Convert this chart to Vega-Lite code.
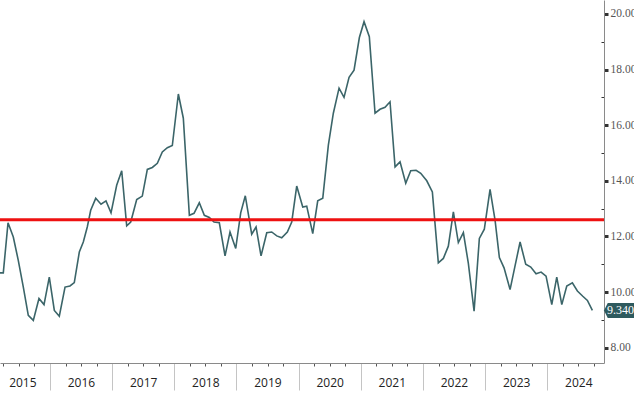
{
  "$schema": "https://vega.github.io/schema/vega-lite/v6.json",
  "width": 604,
  "height": 363,
  "autosize": {"type": "none"},
  "padding": {"left": 0, "top": 0, "right": 30, "bottom": 35},
  "background": "white",
  "config": {"view": {"stroke": null}},
  "datasets": {
    "series": [
      {"t": 2015.196, "v": 10.69}, {"t": 2015.249, "v": 10.69}, {"t": 2015.325, "v": 12.49}, {"t": 2015.410, "v": 11.98},
      {"t": 2015.490, "v": 11.14}, {"t": 2015.571, "v": 10.18}, {"t": 2015.651, "v": 9.16}, {"t": 2015.732, "v": 8.98},
      {"t": 2015.823, "v": 9.77}, {"t": 2015.904, "v": 9.55}, {"t": 2015.989, "v": 10.54}, {"t": 2016.070, "v": 9.34},
      {"t": 2016.150, "v": 9.13}, {"t": 2016.242, "v": 10.18}, {"t": 2016.322, "v": 10.22}, {"t": 2016.391, "v": 10.34},
      {"t": 2016.472, "v": 11.44}, {"t": 2016.536, "v": 11.80}, {"t": 2016.600, "v": 12.34}, {"t": 2016.655, "v": 12.94},
      {"t": 2016.736, "v": 13.37}, {"t": 2016.821, "v": 13.16}, {"t": 2016.901, "v": 13.28}, {"t": 2016.982, "v": 12.85},
      {"t": 2017.073, "v": 13.84}, {"t": 2017.154, "v": 14.36}, {"t": 2017.234, "v": 12.38}, {"t": 2017.299, "v": 12.52},
      {"t": 2017.395, "v": 13.33}, {"t": 2017.485, "v": 13.45}, {"t": 2017.566, "v": 14.41}, {"t": 2017.646, "v": 14.48},
      {"t": 2017.727, "v": 14.63}, {"t": 2017.807, "v": 15.04}, {"t": 2017.888, "v": 15.19}, {"t": 2017.968, "v": 15.27},
      {"t": 2018.065, "v": 17.12}, {"t": 2018.145, "v": 16.25}, {"t": 2018.242, "v": 12.76}, {"t": 2018.317, "v": 12.83},
      {"t": 2018.402, "v": 13.21}, {"t": 2018.483, "v": 12.76}, {"t": 2018.563, "v": 12.68}, {"t": 2018.639, "v": 12.52},
      {"t": 2018.724, "v": 12.49}, {"t": 2018.816, "v": 11.30}, {"t": 2018.896, "v": 12.16}, {"t": 2018.988, "v": 11.57},
      {"t": 2019.068, "v": 12.85}, {"t": 2019.142, "v": 13.46}, {"t": 2019.245, "v": 12.08}, {"t": 2019.315, "v": 12.34},
      {"t": 2019.395, "v": 11.30}, {"t": 2019.487, "v": 12.13}, {"t": 2019.567, "v": 12.16}, {"t": 2019.648, "v": 12.02},
      {"t": 2019.728, "v": 11.95}, {"t": 2019.818, "v": 12.16}, {"t": 2019.889, "v": 12.52}, {"t": 2019.969, "v": 13.81},
      {"t": 2020.066, "v": 13.06}, {"t": 2020.130, "v": 13.09}, {"t": 2020.227, "v": 12.10}, {"t": 2020.307, "v": 13.28},
      {"t": 2020.388, "v": 13.37}, {"t": 2020.478, "v": 15.28}, {"t": 2020.558, "v": 16.43}, {"t": 2020.650, "v": 17.33},
      {"t": 2020.730, "v": 17.00}, {"t": 2020.811, "v": 17.72}, {"t": 2020.891, "v": 17.98}, {"t": 2020.977, "v": 19.15},
      {"t": 2021.052, "v": 19.72}, {"t": 2021.137, "v": 19.18}, {"t": 2021.229, "v": 16.43}, {"t": 2021.309, "v": 16.57},
      {"t": 2021.390, "v": 16.64}, {"t": 2021.470, "v": 16.84}, {"t": 2021.551, "v": 14.50}, {"t": 2021.631, "v": 14.68},
      {"t": 2021.723, "v": 13.91}, {"t": 2021.803, "v": 14.36}, {"t": 2021.889, "v": 14.38}, {"t": 2021.964, "v": 14.27},
      {"t": 2022.061, "v": 14.00}, {"t": 2022.151, "v": 13.60}, {"t": 2022.247, "v": 11.05}, {"t": 2022.328, "v": 11.21},
      {"t": 2022.408, "v": 11.65}, {"t": 2022.489, "v": 12.88}, {"t": 2022.569, "v": 11.78}, {"t": 2022.650, "v": 12.14},
      {"t": 2022.730, "v": 11.03}, {"t": 2022.822, "v": 9.31}, {"t": 2022.907, "v": 11.93}, {"t": 2022.987, "v": 12.26},
      {"t": 2023.079, "v": 13.69}, {"t": 2023.160, "v": 12.58}, {"t": 2023.229, "v": 11.24}, {"t": 2023.304, "v": 10.87},
      {"t": 2023.401, "v": 10.09}, {"t": 2023.481, "v": 10.94}, {"t": 2023.562, "v": 11.80}, {"t": 2023.653, "v": 11.00},
      {"t": 2023.734, "v": 10.90}, {"t": 2023.819, "v": 10.66}, {"t": 2023.900, "v": 10.72}, {"t": 2023.980, "v": 10.57},
      {"t": 2024.072, "v": 9.55}, {"t": 2024.152, "v": 10.54}, {"t": 2024.233, "v": 9.55}, {"t": 2024.313, "v": 10.22},
      {"t": 2024.403, "v": 10.33}, {"t": 2024.484, "v": 10.04}, {"t": 2024.571, "v": 9.85}, {"t": 2024.645, "v": 9.70},
      {"t": 2024.725, "v": 9.34}
    ],
    "last": [{"t": 2024.912, "v": 9.34}],
    "threshold": [{"v": 12.6}]
  },
  "encoding": {
    "x": {
      "field": "t", "type": "quantitative",
      "scale": {"domain": [2015.196, 2024.912], "nice": false, "zero": false},
      "axis": {
        "title": null,
        "orient": "bottom",
        "grid": false,
        "domainColor": "#8a8a8a",
        "domainWidth": 1,
        "values": [2015.25, 2015.5, 2015.75, 2016, 2016.25, 2016.5, 2016.75, 2017, 2017.25, 2017.5, 2017.75, 2018, 2018.25, 2018.5, 2018.75, 2019, 2019.25, 2019.5, 2019.75, 2020, 2020.25, 2020.5, 2020.75, 2021, 2021.25, 2021.5, 2021.75, 2022, 2022.25, 2022.5, 2022.75, 2023, 2023.25, 2023.5, 2023.75, 2024, 2024.25, 2024.5, 2024.75],
        "tickSize": {"condition": {"test": "floor(datum.value) == datum.value", "value": 27}, "value": 3},
        "tickColor": {"condition": {"test": "floor(datum.value) == datum.value", "value": "#c4c4c4"}, "value": "#555555"},
        "tickWidth": 1,
        "labelExpr": "floor(datum.value) == datum.value ? format(datum.value, 'd') : (datum.value == 2015.25 ? '2015' : '')",
        "labelOffset": {"condition": {"test": "datum.value == 2015.25", "value": 19}, "value": 31},
        "labelPadding": {"condition": {"test": "floor(datum.value) == datum.value", "value": -13}, "value": 11},
        "labelFont": "Open Sans",
        "labelFontSize": 12,
        "labelColor": "#222222",
        "labelOverlap": false,
        "labelFlush": false,
        "labelBound": false
      }
    },
    "y": {
      "field": "v", "type": "quantitative",
      "scale": {"domain": [7.45, 20.5], "nice": false, "zero": false},
      "axis": {
        "title": null,
        "orient": "right",
        "grid": false,
        "domainColor": "#8a8a8a",
        "domainWidth": 1,
        "values": [8, 9, 10, 11, 12, 13, 14, 15, 16, 17, 18, 19, 20],
        "tickSize": {"condition": {"test": "datum.value % 2 == 0", "value": 4}, "value": -3},
        "tickWidth": {"condition": {"test": "datum.value % 2 == 0", "value": 3}, "value": 1},
        "tickColor": "#333333",
        "labelExpr": "datum.value % 2 == 0 ? format(datum.value, '.2f') : ''",
        "labelPadding": 2,
        "labelFont": "Liberation Sans Narrow",
        "labelFontSize": 11.5,
        "labelColor": "#555555",
        "labelOverlap": false,
        "labelFlush": false,
        "labelBound": false
      }
    }
  },
  "layer": [
    {
      "data": {"name": "series"},
      "mark": {"type": "line", "color": "#3b6569", "strokeWidth": 1.6}
    },
    {
      "data": {"name": "threshold"},
      "mark": {"type": "rule", "color": "#ee1111", "strokeWidth": 3},
      "encoding": {"x": {"value": 0}, "x2": {"value": 604}}
    },
    {
      "data": {"name": "last"},
      "mark": {"type": "point", "shape": "M 0 0 L 0.25 -0.5 L 2.4 -0.5 L 2.4 0.5 L 0.25 0.5 Z", "size": 900, "filled": true, "color": "#2e5a5e", "opacity": 1, "clip": false}
    },
    {
      "data": {"name": "last"},
      "mark": {"type": "text", "align": "left", "baseline": "middle", "dx": 3, "dy": 0, "color": "white", "font": "Liberation Sans Narrow", "fontSize": 12},
      "encoding": {
        "text": {"field": "v", "type": "quantitative", "format": ".3f"}
      }
    }
  ]
}
